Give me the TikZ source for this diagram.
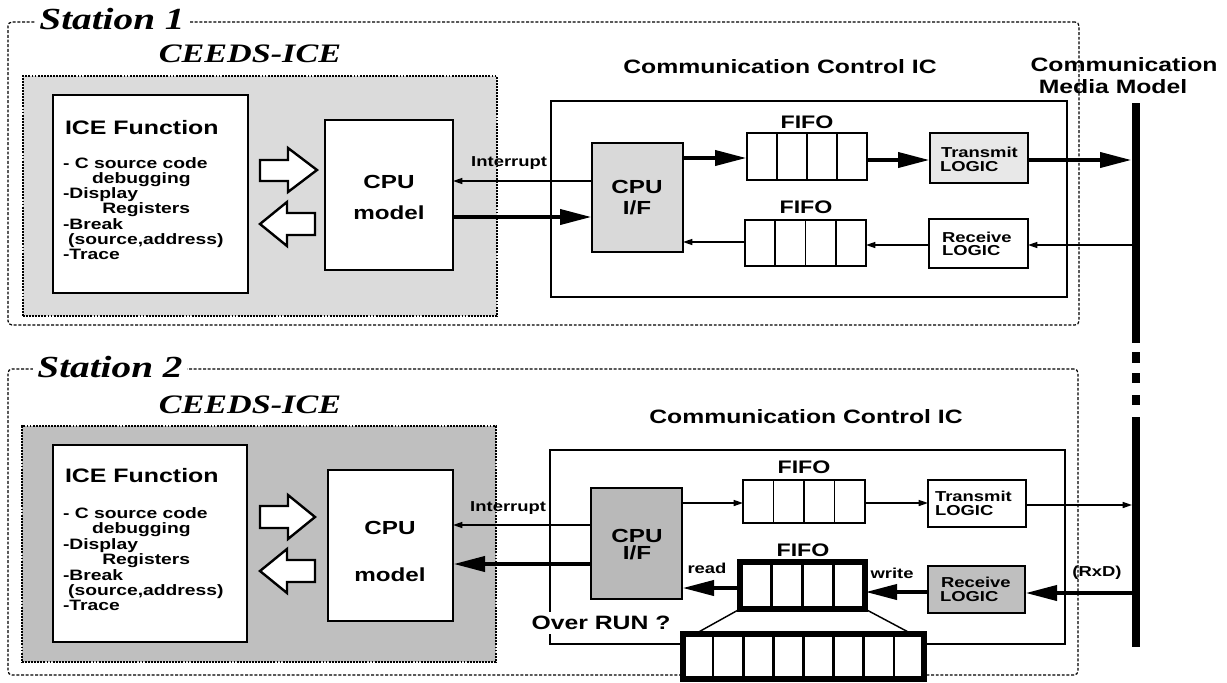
\documentclass[tikz,border=0pt]{standalone}
\usepackage{fontspec}
\usepackage{graphicx}
\setmainfont{Liberation Sans}
\newfontfamily\stfont{Liberation Serif}
\usetikzlibrary{arrows.meta,calc,fit}
\newcommand\wide[1]{\scalebox{1.28}[1]{#1}}
\newcommand\fs[2]{\fontsize{#1}{#2}\selectfont}
\begin{document}
\begin{tikzpicture}[x=0.75pt,y=-0.75pt,
 every node/.style={inner sep=0pt,outer sep=0pt},
 outerbox/.style={draw,line width=0.9pt,dash pattern=on 2.2pt off 1.3pt,rounded corners=3pt},
 ceeds/.style={draw,line width=1.8pt,dash pattern=on 1.4pt off 0.9pt},
 box/.style={draw,line width=1.9pt,fill=white},
 thinbox/.style={draw,line width=1.4pt,fill=white},
 thinarr/.style={line width=1.1pt,-{Triangle[length=7pt,width=4.5pt]}},
 thickarr/.style={line width=3.6pt,-{Triangle[length=24pt,width=11pt]}},
 blockarr/.style={draw,line width=1.8pt,fill=white,line join=miter},
 cellline/.style={line width=1.3pt},
 stlbl/.style={fill=white,inner xsep=3pt,inner ysep=1pt,font=\stfont\bfseries\itshape\fs{23}{23}},
 ceedslbl/.style={font=\stfont\bfseries\itshape\fs{20}{20}},
 big/.style={font=\bfseries\fs{14.5}{16}},
 cpufont/.style={font=\bfseries\fs{14.2}{16}},
 small/.style={font=\bfseries\fs{10.8}{11}},
]
\useasboundingbox (0,0) rectangle (1227,682);

%================ Station 1 =================
\node[outerbox,fit={(8,22) (1079,325)}] (st1) {};
\node[stlbl] (st1lbl) at (112,19) {\wide{Station 1}};
\node[ceeds,fill=gray!28,fit={(23,76) (497,316)}] (ceeds1) {};
\node[ceedslbl] (ceeds1lbl) at (250,54) {\wide{CEEDS-ICE}};

\node[box,fit={(53,95) (248,293)}] (ice1) {};
\node[anchor=base west,font=\bfseries\fs{14.6}{16}] (ice1t) at (65,134) {\wide{ICE Function}};
\node[anchor=base west,font=\bfseries\fs{11.3}{10.9}] (ice1l) at (63,168)
 {\wide{\begin{tabular}[t]{@{}l@{}}- C source code\\\hspace*{17pt}debugging\\-Display\\\hspace*{23pt}Registers\\-Break\\\hspace*{3pt}(source,address)\\-Trace\end{tabular}}};

\draw[blockarr] (260,160) -- (288,160) -- (288,148) -- (317,170) -- (288,192) -- (288,181) -- (260,181) -- cycle;
\draw[blockarr] (315,213) -- (287,213) -- (287,202) -- (260,224) -- (287,246) -- (287,235) -- (315,235) -- cycle;

\node[box,fit={(325,120) (453,270)}] (cpu1) {};
\node[cpufont] (cpu1a) at (389,182) {\wide{CPU}};
\node[cpufont] (cpu1b) at (389,213) {\wide{model}};

\node[box,fit={(551,101) (1067,297)}] (ccic1) {};
\node[big] (ccic1lbl) at (780,67) {\wide{Communication Control IC}};

\node[box,fill=gray!30,fit={(592,143) (683,252)}] (cpuif1) {};
\node[cpufont] (cpuif1a) at (637,187) {\wide{CPU}};
\node[cpufont] (cpuif1b) at (637,208) {\wide{I/F}};

\node[box,fit={(747,133) (867,180)}] (f1a) {};
\node[font=\bfseries\fs{13.6}{14}] (f1albl) at (807,122) {\wide{FIFO}};
\node[box,fit={(745,220) (866,266)}] (f1b) {};
\node[font=\bfseries\fs{13.6}{14}] (f1blbl) at (806,207) {\wide{FIFO}};
\foreach \f in {f1a,f1b}
 \foreach \t in {0.25,0.5,0.75}
  \draw[cellline] ($(\f.north west)!\t!(\f.north east)$) -- ($(\f.south west)!\t!(\f.south east)$);

\node[box,fill=gray!18,fit={(930,133) (1028,183)}] (tr1) {};
\node[small,anchor=west] (tr1a) at (941,152) {\wide{Transmit}};
\node[small,anchor=west] (tr1b) at (940,167) {\wide{LOGIC}};
\node[box,fit={(929,219) (1028,268)}] (rc1) {};
\node[small,anchor=west] (rc1a) at (942,237) {\wide{Receive}};
\node[small,anchor=west] (rc1b) at (942,251) {\wide{LOGIC}};

\node[big] (med1) at (1124,65) {\wide{Communication}};
\node[big] (med2) at (1113,87) {\wide{Media Model}};

% bus
\coordinate (bus) at (1132,0);
\draw[line width=6pt] (1136,103) -- (1136,343);
\foreach \a/\b in {352/363,373/383,395/405}
  \draw[line width=6pt] (1136,\a) -- (1136,\b);
\draw[line width=6pt] (1136,417) -- (1136,647);

% arrows station 1
\draw[thinarr] (cpuif1.west |- 0,181) -- (cpu1.east |- 0,181);
\node[anchor=base east,small] (int1) at (547,166) {\wide{Interrupt}};
\draw[thickarr] (cpu1.east |- 0,217) -- (cpuif1.west |- 0,217);
\draw[thickarr] (cpuif1.east |- 0,158) -- (f1a.west |- 0,158);
\draw[thickarr] (f1a.east |- 0,160) -- (tr1.west |- 0,160);
\draw[thickarr] (tr1.east |- 0,160) -- (bus |- 0,160);
\draw[thinarr] (bus |- 0,245) -- (rc1.east |- 0,245);
\draw[thinarr] (rc1.west |- 0,245) -- (f1b.east |- 0,245);
\draw[thinarr] (f1b.west |- 0,242) -- (cpuif1.east |- 0,242);

%================ Station 2 =================
\node[outerbox,fit={(8,369) (1078,675)}] (st2) {};
\node[stlbl] (st2lbl) at (110,367) {\wide{Station 2}};
\node[ceeds,fill=gray!50,fit={(22,426) (496,662)}] (ceeds2) {};
\node[ceedslbl] (ceeds2lbl) at (250,405) {\wide{CEEDS-ICE}};

\node[box,fit={(53,445) (247,642)}] (ice2) {};
\node[anchor=base west,font=\bfseries\fs{14.6}{16}] (ice2t) at (65,482) {\wide{ICE Function}};
\node[anchor=base west,font=\bfseries\fs{11.3}{11.5}] (ice2l) at (63,518)
 {\wide{\begin{tabular}[t]{@{}l@{}}- C source code\\\hspace*{17pt}debugging\\-Display\\\hspace*{23pt}Registers\\-Break\\\hspace*{3pt}(source,address)\\-Trace\end{tabular}}};

\draw[blockarr] (260,506) -- (288,506) -- (288,495) -- (315,517) -- (288,539) -- (288,528) -- (260,528) -- cycle;
\draw[blockarr] (315,560) -- (287,560) -- (287,549) -- (260,571) -- (287,593) -- (287,582) -- (315,582) -- cycle;

\node[box,fit={(328,470) (453,621)}] (cpu2) {};
\node[cpufont] (cpu2a) at (390,528) {\wide{CPU}};
\node[cpufont] (cpu2b) at (390,575) {\wide{model}};

\node[box,fit={(550,450) (1065,644)}] (ccic2) {};
\node[big] (ccic2lbl) at (806,417) {\wide{Communication Control IC}};
\node[fill=white,inner sep=3pt,big] (over) at (601,623) {\wide{Over RUN ?}};

\node[box,fill=gray!55,fit={(591,488) (682,599)}] (cpuif2) {};
\node[cpufont] (cpuif2a) at (637,536) {\wide{CPU}};
\node[cpufont] (cpuif2b) at (637,553) {\wide{I/F}};

\node[thinbox,fit={(743,480) (865,523)}] (f2a) {};
\node[font=\bfseries\fs{13.6}{14}] (f2albl) at (804,467) {\wide{FIFO}};
\foreach \t in {0.25,0.5,0.75}
  \draw[cellline] ($(f2a.north west)!\t!(f2a.north east)$) -- ($(f2a.south west)!\t!(f2a.south east)$);
\node[draw,line width=3.8pt,fill=white,fit={(740,562) (865,609)}] (f2b) {};
\node[font=\bfseries\fs{13.6}{14}] (f2blbl) at (803,550) {\wide{FIFO}};
\foreach \t in {0.25,0.5,0.75}
  \draw[line width=1.9pt] ($(f2b.north west)!\t!(f2b.north east)$) -- ($(f2b.south west)!\t!(f2b.south east)$);

\node[thinbox,fit={(928,480) (1026,527)}] (tr2) {};
\node[small,anchor=west] (tr2a) at (935,496) {\wide{Transmit}};
\node[small,anchor=west] (tr2b) at (935,511) {\wide{LOGIC}};
\node[box,fill=gray!50,fit={(928,566) (1025,613)}] (rc2) {};
\node[small,anchor=west] (rc2a) at (941,582) {\wide{Receive}};
\node[small,anchor=west] (rc2b) at (940,597) {\wide{LOGIC}};

% arrows station 2
\draw[thinarr] (cpuif2.west |- 0,525) -- (cpu2.east |- 0,525);
\node[anchor=base east,small] (int2) at (546,511) {\wide{Interrupt}};
\draw[thickarr] (cpuif2.west |- 0,564) -- (cpu2.east |- 0,564);
\draw[thinarr] (cpuif2.east |- 0,503) -- (f2a.west |- 0,503);
\draw[thinarr] (f2a.east |- 0,503) -- (tr2.west |- 0,503);
\draw[thinarr] (tr2.east |- 0,505) -- (bus |- 0,505);
\draw[thickarr] (bus |- 0,593) -- (rc2.east |- 0,593);
\draw[thickarr] (rc2.west |- 0,592) -- (f2b.east |- 0,592);
\draw[thickarr] (f2b.west |- 0,588) -- (cpuif2.east |- 0,588);
\node[small] (readl) at (707,568) {\wide{read}};
\node[small] (writel) at (892,573) {\wide{write}};
\node[small] (rxd) at (1097,573) {\wide{(RxD)}};

% expanded FIFO
\node[draw,line width=4.5pt,fill=white,fit={(683,634) (924,679)}] (fx) {};
\foreach \t in {0.125,0.25,0.375,0.5,0.625,0.75,0.875}
  \draw[line width=1.9pt] ($(fx.north west)!\t!(fx.north east)$) -- ($(fx.south west)!\t!(fx.south east)$);
\draw[line width=1.1pt] (f2b.south west) -- ($(fx.north west)+(12,0)$);
\draw[line width=1.1pt] (f2b.south east) -- ($(fx.north east)+(-12,0)$);
\end{tikzpicture}
\end{document}
